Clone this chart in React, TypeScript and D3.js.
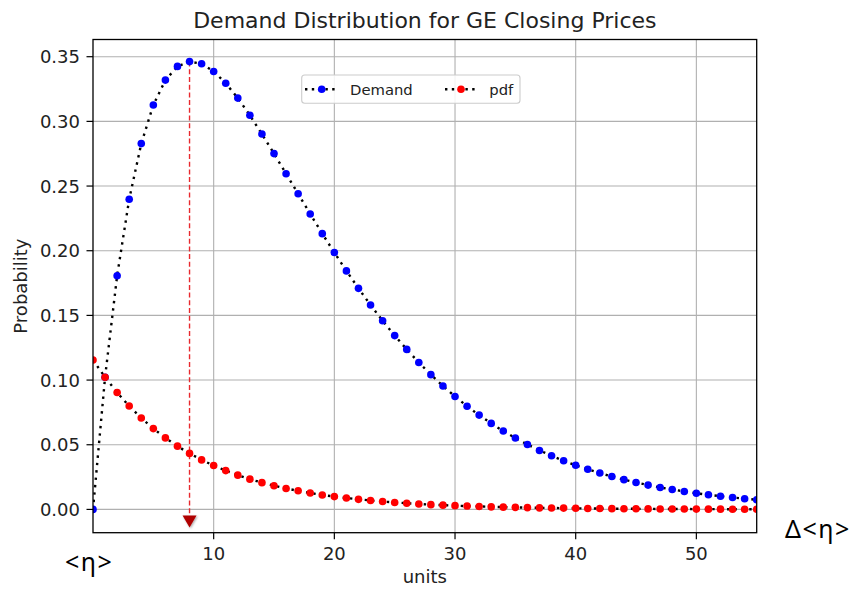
import React from "react";
import * as d3 from "d3";

// Probability values at integer units 0..55
const units: number[] = d3.range(0, 56);

const demand: number[] = [
  0, 0.1022, 0.1807, 0.2398, 0.2828, 0.3127, 0.3319, 0.3425, 0.3462, 0.3446,
  0.3386, 0.3295, 0.318, 0.3047, 0.2902, 0.2751, 0.2595, 0.244, 0.2284, 0.2132,
  0.1986, 0.1844, 0.1709, 0.158, 0.1459, 0.1344, 0.1237, 0.1136, 0.1042, 0.0954,
  0.0873, 0.0798, 0.0729, 0.0665, 0.0606, 0.0552, 0.0502, 0.0456, 0.0415, 0.0376,
  0.0341, 0.031, 0.0281, 0.0254, 0.023, 0.0208, 0.0188, 0.017, 0.0154, 0.0139,
  0.0125, 0.0113, 0.0102, 0.0092, 0.0083, 0.0075,
];

const pdf: number[] = [
  0.1155, 0.1022, 0.0904, 0.0799, 0.0707, 0.0625, 0.0553, 0.0489, 0.0433, 0.0383,
  0.0339, 0.03, 0.0265, 0.0234, 0.0207, 0.0183, 0.0162, 0.0144, 0.0127, 0.0112,
  0.0099, 0.0088, 0.0078, 0.0069, 0.0061, 0.0054, 0.0048, 0.0042, 0.0037, 0.0033,
  0.0029, 0.0026, 0.0023, 0.002, 0.0018, 0.0016, 0.0014, 0.0012, 0.0011, 0.001,
  0.00085, 0.00076, 0.00067, 0.00059, 0.00052, 0.00046, 0.00041, 0.00036, 0.00032, 0.00028,
  0.00025, 0.00022, 0.0002, 0.00017, 0.00015, 0.00014,
];

const xTicks: number[] = [10, 20, 30, 40, 50];
const yTicks: number[] = [0, 0.05, 0.1, 0.15, 0.2, 0.25, 0.3, 0.35];
const xDomain: [number, number] = [0, 55];
const yDomain: [number, number] = [-0.018, 0.3633];
const markUnit = 8;

const W = 855;
const H = 589;
const box = { left: 93, right: 756.7, top: 39.5, bottom: 532.7 };
const FONT = "'DejaVu Sans', sans-serif";
const R = 3.8;

export default function App() {
  const x = d3.scaleLinear().domain(xDomain).range([box.left, box.right]);
  const y = d3.scaleLinear().domain(yDomain).range([box.bottom, box.top]);
  const line = d3
    .line<number>()
    .x((_, i) => x(units[i]))
    .y((d) => y(d));
  const fmt = d3.format(".2f");
  const cx = (box.left + box.right) / 2;
  const cy = (box.top + box.bottom) / 2;
  const peak = demand[markUnit];
  const mx = x(markUnit);
  const y0 = y(0);

  const dotted = { stroke: "#000", strokeWidth: 2.4, strokeDasharray: "2.4 5", fill: "none" };

  return (
    <svg
      width={W}
      height={H}
      style={{ position: "absolute", left: 0, top: 0, background: "#fff" }}
      fontFamily={FONT}
    >
      <defs>
        <clipPath id="plotArea">
          <rect x={box.left} y={box.top} width={box.right - box.left} height={box.bottom - box.top} />
        </clipPath>
        <filter id="shade" x="-50%" y="-50%" width="200%" height="200%">
          <feDropShadow dx="1" dy="1" stdDeviation="1" floodColor="#000" floodOpacity="0.35" />
        </filter>
      </defs>
      <rect width={W} height={H} fill="#fff" />

      {/* grid */}
      <g stroke="#b0b0b0" strokeWidth={1.1}>
        {xTicks.map((t) => (
          <line key={"gx" + t} x1={x(t)} x2={x(t)} y1={box.top} y2={box.bottom} />
        ))}
        {yTicks.map((t) => (
          <line key={"gy" + t} x1={box.left} x2={box.right} y1={y(t)} y2={y(t)} />
        ))}
      </g>

      <g clipPath="url(#plotArea)">
        {/* marker line at the mode */}
        <line
          x1={mx}
          x2={mx}
          y1={y(peak)}
          y2={y0 + 6}
          stroke="#e8292e"
          strokeWidth={1.4}
          strokeDasharray="5 2.7"
        />
        <path d={line(demand) || ""} {...dotted} />
        {demand.map((d, i) => (
          <circle key={"d" + i} cx={x(units[i])} cy={y(d)} r={R} fill="#0000ff" />
        ))}
        <path d={line(pdf) || ""} {...dotted} />
        {pdf.map((d, i) => (
          <circle key={"p" + i} cx={x(units[i])} cy={y(d)} r={R} fill="#ff0000" />
        ))}
        <polygon
          points={`${mx - 7},${y0 + 6} ${mx + 7},${y0 + 6} ${mx},${y0 + 18}`}
          fill="#b00000"
          filter="url(#shade)"
        />
      </g>

      {/* spines */}
      <rect
        x={box.left}
        y={box.top}
        width={box.right - box.left}
        height={box.bottom - box.top}
        fill="none"
        stroke="#000"
        strokeWidth={1.3}
      />

      {/* x axis */}
      <g fontSize={18} fill="#222" textAnchor="middle">
        {xTicks.map((t) => (
          <g key={"tx" + t}>
            <line x1={x(t)} x2={x(t)} y1={box.bottom} y2={box.bottom + 6.5} stroke="#000" strokeWidth={1.2} />
            <text x={x(t)} y={box.bottom + 27.3}>
              {t}
            </text>
          </g>
        ))}
        <text x={cx} y={583}>units</text>
      </g>

      {/* y axis */}
      <g fontSize={18} fill="#222" textAnchor="end">
        {yTicks.map((t) => (
          <g key={"ty" + t}>
            <line x1={box.left - 6.5} x2={box.left} y1={y(t)} y2={y(t)} stroke="#000" strokeWidth={1.2} />
            <text x={box.left - 13} y={y(t)} dy="0.36em">
              {fmt(t)}
            </text>
          </g>
        ))}
        <text
          transform={`translate(27,${cy}) rotate(-90)`}
          textAnchor="middle"
        >
          Probability
        </text>
      </g>

      {/* title */}
      <text x={cx} y={28} fontSize={22} textAnchor="middle" fill="#222">
        Demand Distribution for GE Closing Prices
      </text>

      {/* legend */}
      <g>
        <rect x={301.7} y={75} width={218.3} height={28.3} rx={3} fill="#fff" fillOpacity={0.85} stroke="#cccccc" strokeWidth={1.1} />
        <line x1={305} x2={336.7} y1={89.3} y2={89.3} {...dotted} strokeDasharray="2.4 4.4" />
        <circle cx={321.7} cy={89.3} r={R} fill="#0000ff" />
        <text x={350} y={89.3} dy="0.36em" fontSize={14.8} fill="#222">
          Demand
        </text>
        <line x1={445} x2={476.7} y1={89.3} y2={89.3} {...dotted} strokeDasharray="2.4 4.4" />
        <circle cx={461} cy={89.3} r={R} fill="#ff0000" />
        <text x={489.3} y={89.3} dy="0.36em" fontSize={14.8} fill="#222">
          pdf
        </text>
      </g>

      {/* annotations */}
      <g fontFamily="'Noto Sans', sans-serif" fontSize={25} fill="#000" letterSpacing={1.5}>
        <text x={65} y={571}>&lt;η&gt;</text>
        <text x={785} y={538}>Δ&lt;η&gt;</text>
      </g>
    </svg>
  );
}
